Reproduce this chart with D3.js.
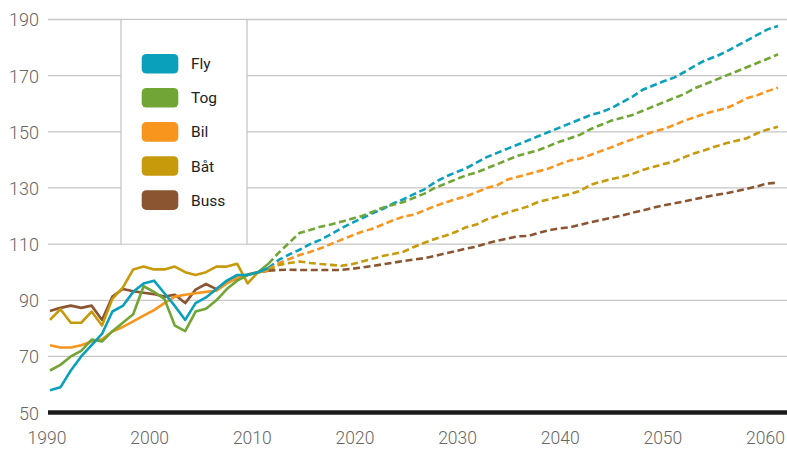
<!DOCTYPE html>
<html>
<head>
<meta charset="utf-8">
<script src="https://cdn.jsdelivr.net/npm/d3@7"></script>
<style>
  html, body { margin: 0; padding: 0; background: #fff; }
  svg { display: block; }
  .tick text { font-family: Roboto, "Open Sans", sans-serif; font-weight: 300; fill: #666; }
</style>
</head>
<body>
<svg id="chart" width="787" height="449"></svg>
<script>
// ---------- data ----------
const firstYear = 1990;
const lastYear = 2060;
const splitYear = 2011; // solid (observed) up to here, dashed (projection) after

const seriesNames = ["Fly", "Tog", "Bil", "Båt", "Buss"];
const seriesColors = ["#0aa0bb", "#71a535", "#f8951d", "#c79a0c", "#8a5530"];

const fly = [58, 59, 65, 70, 74, 78, 86, 88, 93, 96, 97, 92.5, 88, 83, 89, 91, 94, 97, 99, 99, 100, 101.5,
  104.4, 106.3, 108, 110, 111.5, 113.5, 115.6, 117.5, 119.2, 121, 122.5, 124.5, 126, 127.8, 129.5, 132, 134, 135.5,
  137, 139, 141, 142.5, 144, 145.5, 147, 148.5, 150, 151.5, 153, 154.5, 156, 157, 158.5, 160.5, 162.5, 165, 166.5,
  168, 169.3, 171.3, 173.5, 175.5, 176.8, 178.5, 180.5, 182.5, 184.5, 186.5, 187.7];

const tog = [65, 67, 70, 72, 76, 75.3, 79, 82, 85, 95, 93, 90.5, 81, 79, 86, 87, 90, 94, 97, 99, 100, 103,
  107, 110.5, 114, 115, 116.2, 117, 118, 119, 120, 121.5, 123, 124, 125, 126.5, 128, 130, 131.5, 133,
  134.5, 135.5, 137, 138.5, 140, 141.5, 142.5, 143.5, 145, 146.5, 147.7, 149, 151, 152.5, 154, 155, 156, 157.5, 159,
  160.5, 162, 163.5, 165.5, 167, 168.5, 170, 171.5, 173, 174.5, 176, 177.6];

const bil = [74, 73.2, 73.2, 74, 75.3, 76.1, 78.9, 80.5, 82.5, 84.5, 86.5, 89, 91.3, 92, 92.5, 93, 93.4, 96, 98, 99, 100, 101,
  103.2, 104.7, 106.1, 107.2, 108.5, 110, 111.5, 113, 114.4, 115.5, 117, 118.5, 119.8, 120.5, 122, 123.5, 124.8, 126,
  127, 128.5, 130, 131, 133, 134, 135, 136, 137, 138.5, 139.8, 140.5, 141.8, 143.2, 144.5, 146, 147.3, 148.7, 150,
  151, 152.4, 154, 155.2, 156.5, 157.5, 158.4, 160, 162, 163, 164.5, 165.7];

const bat = [83, 86.8, 82, 82, 86, 81, 90.5, 94.5, 101, 102, 101, 101, 102, 100, 99, 100, 102, 102, 103, 96, 100, 100.5,
  102.6, 103.3, 103.8, 103.3, 102.9, 102.6, 102.3, 102.8, 103.8, 104.8, 105.8, 106.5, 107.3, 109, 110.5, 111.8, 113, 114.3,
  116, 117, 118.8, 120, 121.3, 122.3, 123.5, 125.1, 126, 126.9, 127.8, 129, 131.2, 132.2, 133.2, 134, 135, 136.4, 137.5,
  138.5, 139.4, 141, 142.4, 143.5, 144.8, 145.9, 146.8, 147.7, 149.5, 150.8, 151.8];

const buss = [86.2, 87.3, 88.1, 87.3, 88.1, 83, 91.3, 94, 93.2, 92.7, 92.2, 91.3, 92, 89, 93.8, 95.8, 94, 96.2, 98, 99.2, 100, 100.5,
  100.8, 100.9, 100.8, 100.8, 100.8, 100.8, 100.8, 101.2, 101.7, 102.2, 102.8, 103.4, 104, 104.5, 105, 105.8, 106.7, 107.5,
  108.4, 109.1, 110.3, 111.2, 112, 112.8, 112.9, 114, 115, 115.6, 116, 116.9, 117.8, 118.6, 119.4, 120.2, 121.2, 122, 123,
  123.8, 124.5, 125.2, 126, 126.8, 127.5, 128.1, 128.9, 129.7, 130.6, 131.6, 131.9];

const seriesValues = [fly, tog, bil, bat, buss];

const yTicks = [50, 70, 90, 110, 130, 150, 170, 190];
const xTicks = [1990, 2000, 2010, 2020, 2030, 2040, 2050, 2060];

// ---------- chart ----------
const svg = d3.select("#chart");

const x = d3.scaleLinear().domain([firstYear, lastYear]).range([50, 778]);
const xLabel = d3.scaleLinear().domain([firstYear, lastYear]).range([46.5, 765]); // label placement used by the original
const y = d3.scaleLinear().domain([50, 190]).range([412.6, 19.5]);

// gridlines
svg.append("g")
  .selectAll("line")
  .data(yTicks.filter(d => d !== 50))
  .join("line")
  .attr("x1", 48).attr("x2", 787)
  .attr("y1", d => y(d)).attr("y2", d => y(d))
  .attr("stroke", "#c6c6c6")
  .attr("stroke-width", 1.3);

// legend box (white panel covering gridlines, side borders)
const lgLeft = 121, lgRight = 247;
svg.append("rect")
  .attr("x", lgLeft).attr("y", y(190) + 0.7)
  .attr("width", lgRight - lgLeft).attr("height", y(110) - y(190) - 1.4)
  .attr("fill", "#fff");
[lgLeft, lgRight].forEach(px => {
  svg.append("line")
    .attr("x1", px).attr("x2", px)
    .attr("y1", y(190)).attr("y2", y(110))
    .attr("stroke", "#c6c6c6").attr("stroke-width", 1.3);
});

// y axis
const yAxis = svg.append("g")
  .attr("transform", "translate(39,0)")
  .call(d3.axisLeft(y).tickValues(yTicks).tickSize(0).tickPadding(0));
yAxis.select(".domain").remove();
yAxis.selectAll("text").attr("font-size", 18).attr("dy", "0.36em");

// x axis
const xAxis = svg.append("g")
  .attr("transform", "translate(0,430)")
  .call(d3.axisBottom(xLabel).tickValues(xTicks).tickFormat(d3.format("d")).tickSize(0).tickPadding(0));
xAxis.select(".domain").remove();
xAxis.selectAll("text").attr("font-size", 17.5).attr("dy", "0.78em");

// baseline
svg.append("line")
  .attr("x1", 48).attr("x2", 787)
  .attr("y1", y(50)).attr("y2", y(50))
  .attr("stroke", "#1b1b1b").attr("stroke-width", 4.5);

// lines
const years = d3.range(firstYear, lastYear + 1);
const line = d3.line()
  .x(d => x(d.year))
  .y(d => y(d.value));

const seriesData = seriesNames.map((name, i) => ({
  name,
  color: seriesColors[i],
  points: years.map((yr, j) => ({ year: yr, value: seriesValues[i][j] }))
}));

const gLines = svg.append("g");
seriesData.forEach(s => {
  gLines.append("path")
    .datum(s.points.filter(p => p.year >= splitYear))
    .attr("d", line)
    .attr("fill", "none")
    .attr("stroke", s.color)
    .attr("stroke-width", 2.6)
    .attr("stroke-dasharray", "7,3.6");
});
seriesData.slice().reverse().forEach(s => {
  gLines.append("path")
    .datum(s.points.filter(p => p.year <= splitYear))
    .attr("d", line)
    .attr("fill", "none")
    .attr("stroke", s.color)
    .attr("stroke-width", 2.6)
    .attr("stroke-linejoin", "round");
});

// legend
const legend = svg.append("g");
seriesData.forEach((s, i) => {
  const cy = 63.7 + i * 34.1;
  legend.append("rect")
    .attr("x", 141.7).attr("y", cy - 9.8)
    .attr("width", 36.6).attr("height", 19.6)
    .attr("rx", 4.5)
    .attr("fill", s.color);
  legend.append("text")
    .attr("x", 191).attr("y", cy)
    .attr("dy", "0.36em")
    .attr("font-family", "Roboto, 'Open Sans', sans-serif")
    .attr("font-size", 15.5)
    .attr("fill", "#222")
    .text(s.name);
});
</script>
</body>
</html>
